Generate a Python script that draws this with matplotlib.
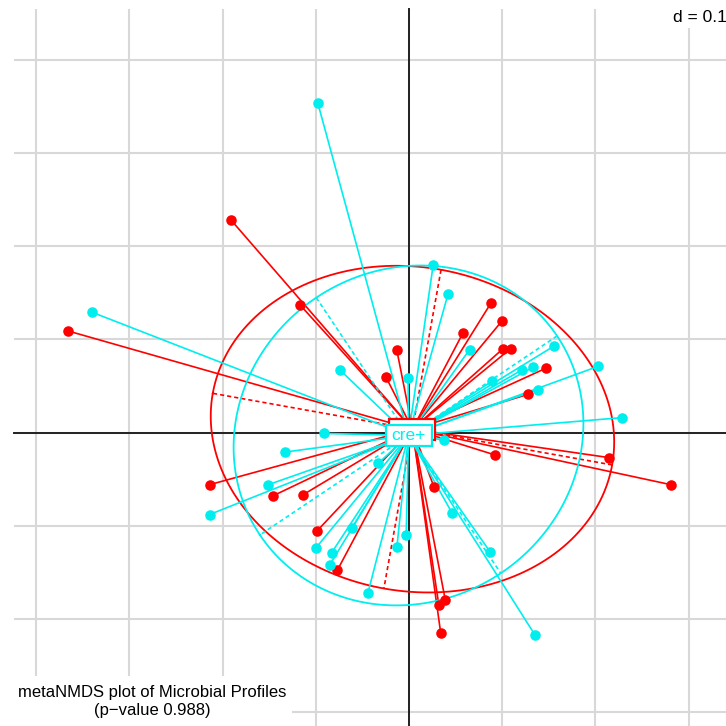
import numpy as np
import matplotlib
matplotlib.use("Agg")
import matplotlib.pyplot as plt
from matplotlib.patches import Rectangle

plt.rcParams['font.family'] = ['Liberation Sans', 'DejaVu Sans']

# NMDS site scores, by group
red_x = [-0.191, -0.366, -0.117, -0.013, -0.025, 0.088, 0.100, 0.058, 0.101, 0.109,
         0.147, 0.128, 0.215, 0.092, 0.281, -0.214, -0.146, -0.114, -0.099, -0.077,
         0.027, 0.032, 0.039, 0.034]
red_y = [0.228, 0.109, 0.137, 0.088, 0.060, 0.139, 0.120, 0.107, 0.090, 0.090,
         0.069, 0.041, -0.027, -0.024, -0.056, -0.056, -0.068, -0.067, -0.106, -0.148,
         -0.059, -0.185, -0.180, -0.215]
cyan_x = [-0.098, -0.340, 0.026, 0.042, 0.065, -0.074, -0.001, 0.156, 0.203, 0.089,
          0.121, 0.133, 0.138, 0.229, -0.091, -0.133, -0.151, -0.214, -0.061, -0.100,
          -0.083, -0.085, -0.044, -0.013, -0.003, 0.046, 0.087, 0.135, -0.033, 0.038]
cyan_y = [0.354, 0.129, 0.180, 0.149, 0.089, 0.067, 0.059, 0.093, 0.071, 0.055,
          0.067, 0.070, 0.046, 0.016, -0.001, -0.021, -0.056, -0.088, -0.102, -0.124,
          -0.129, -0.142, -0.172, -0.123, -0.110, -0.086, -0.128, -0.217, -0.033, -0.008]

group_names = ['cre\u2212', 'cre+']
group_colors = ['#ff0000', '#00eeee']
grid_step = 0.1
title_lines = ['metaNMDS plot of Microbial Profiles', '(p\u2212value 0.988)']

W = H = 726
DPI = 100
ORIGIN_PX = (409.0, 432.5)
PX_PER_UNIT = 932.0

fig = plt.figure(figsize=(W / DPI, H / DPI), dpi=DPI)
ax = fig.add_axes([0, 0, 1, 1])
ax.set_xlim(-ORIGIN_PX[0] / PX_PER_UNIT, (W - ORIGIN_PX[0]) / PX_PER_UNIT)
ax.set_ylim((ORIGIN_PX[1] - H) / PX_PER_UNIT, ORIGIN_PX[1] / PX_PER_UNIT)
ax.axis('off')

# panel limits (left / top edges of the drawing region)
x0 = (14 - ORIGIN_PX[0]) / PX_PER_UNIT
y1 = (ORIGIN_PX[1] - 9) / PX_PER_UNIT
x1 = ax.get_xlim()[1]
y0 = ax.get_ylim()[0]

grid_col = '#d8d8d8'
for gx in np.arange(-4, 4) * grid_step:
    ax.plot([gx, gx], [y0, y1], color=grid_col, lw=1.5, zorder=1, solid_capstyle='butt')
for gy in np.arange(-3, 5) * grid_step:
    ax.plot([x0, x1], [gy, gy], color=grid_col, lw=1.5, zorder=1, solid_capstyle='butt')
ax.plot([x0, x1], [0, 0], color='#222222', lw=1.4, zorder=2)
ax.plot([0, 0], [y0, y1], color='#222222', lw=1.4, zorder=2)

groups = [(np.array(red_x), np.array(red_y)), (np.array(cyan_x), np.array(cyan_y))]
centers = []
for (gx, gy), col in zip(groups, group_colors):
    mx, my = gx.mean(), gy.mean()
    centers.append((mx, my))
    # stars from each site to its group centroid
    for px, py in zip(gx, gy):
        ax.plot([mx, px], [my, py], color=col, lw=1.2, zorder=3)
    # inertia ellipse (1.5 x standard deviation) with its axes
    cov = np.cov(np.vstack([gx, gy]), bias=True)
    vals, vecs = np.linalg.eigh(cov)
    order = np.argsort(vals)[::-1]
    vals, vecs = vals[order], vecs[:, order]
    a, b = 1.5 * np.sqrt(vals)
    t = np.linspace(0, 2 * np.pi, 200)
    ex = mx + a * np.cos(t) * vecs[0, 0] + b * np.sin(t) * vecs[0, 1]
    ey = my + a * np.cos(t) * vecs[1, 0] + b * np.sin(t) * vecs[1, 1]
    ax.plot(ex, ey, color=col, lw=1.3, zorder=3)
    for k, s in ((0, a), (1, b)):
        ax.plot([mx - s * vecs[0, k], mx + s * vecs[0, k]],
                [my - s * vecs[1, k], my + s * vecs[1, k]],
                color=col, lw=1.2, ls=(0, (2.5, 1.8)), zorder=3)

for (gx, gy), col in zip(groups, group_colors):
    ax.plot(gx, gy, 'o', color=col, ms=7.6, mec=col, mew=0, zorder=4)

# centroid labels: white boxes outlined in the group colour
box_w, box_h = 46, 21
for i, ((mx, my), name, col) in enumerate(zip(centers, group_names, group_colors)):
    cx = ORIGIN_PX[0] + mx * PX_PER_UNIT
    cy = ORIGIN_PX[1] - my * PX_PER_UNIT
    ax.add_patch(Rectangle(((cx - box_w / 2) / W, 1 - (cy + box_h / 2) / H), box_w / W, box_h / H,
                           transform=fig.transFigure, fc='white', ec=col, lw=1.6, zorder=6 + 2 * i))
    if i == len(centers) - 1:
        ax.text(mx, my, name, color=col, fontsize=12.5, ha='center', va='center', zorder=7 + 2 * i)

# scale label, top right
fig.patches.append(Rectangle((670 / W, 1 - 28 / H), 56 / W, 28 / H, transform=fig.transFigure,
                             fc='white', ec='none', zorder=10))
fig.text(673 / W, 1 - 17 / H, 'd = 0.1', fontsize=12.5, ha='left', va='center', zorder=11)

# subtitle, bottom left
fig.patches.append(Rectangle((0, 0), 292 / W, 50 / H, transform=fig.transFigure,
                             fc='white', ec='none', zorder=10))
fig.text(152 / W, 1 - 692 / H, title_lines[0], fontsize=12, ha='center', va='center', zorder=11)
fig.text(152 / W, 1 - 710 / H, title_lines[1], fontsize=12, ha='center', va='center', zorder=11)

fig.savefig('out.png', dpi=DPI)
